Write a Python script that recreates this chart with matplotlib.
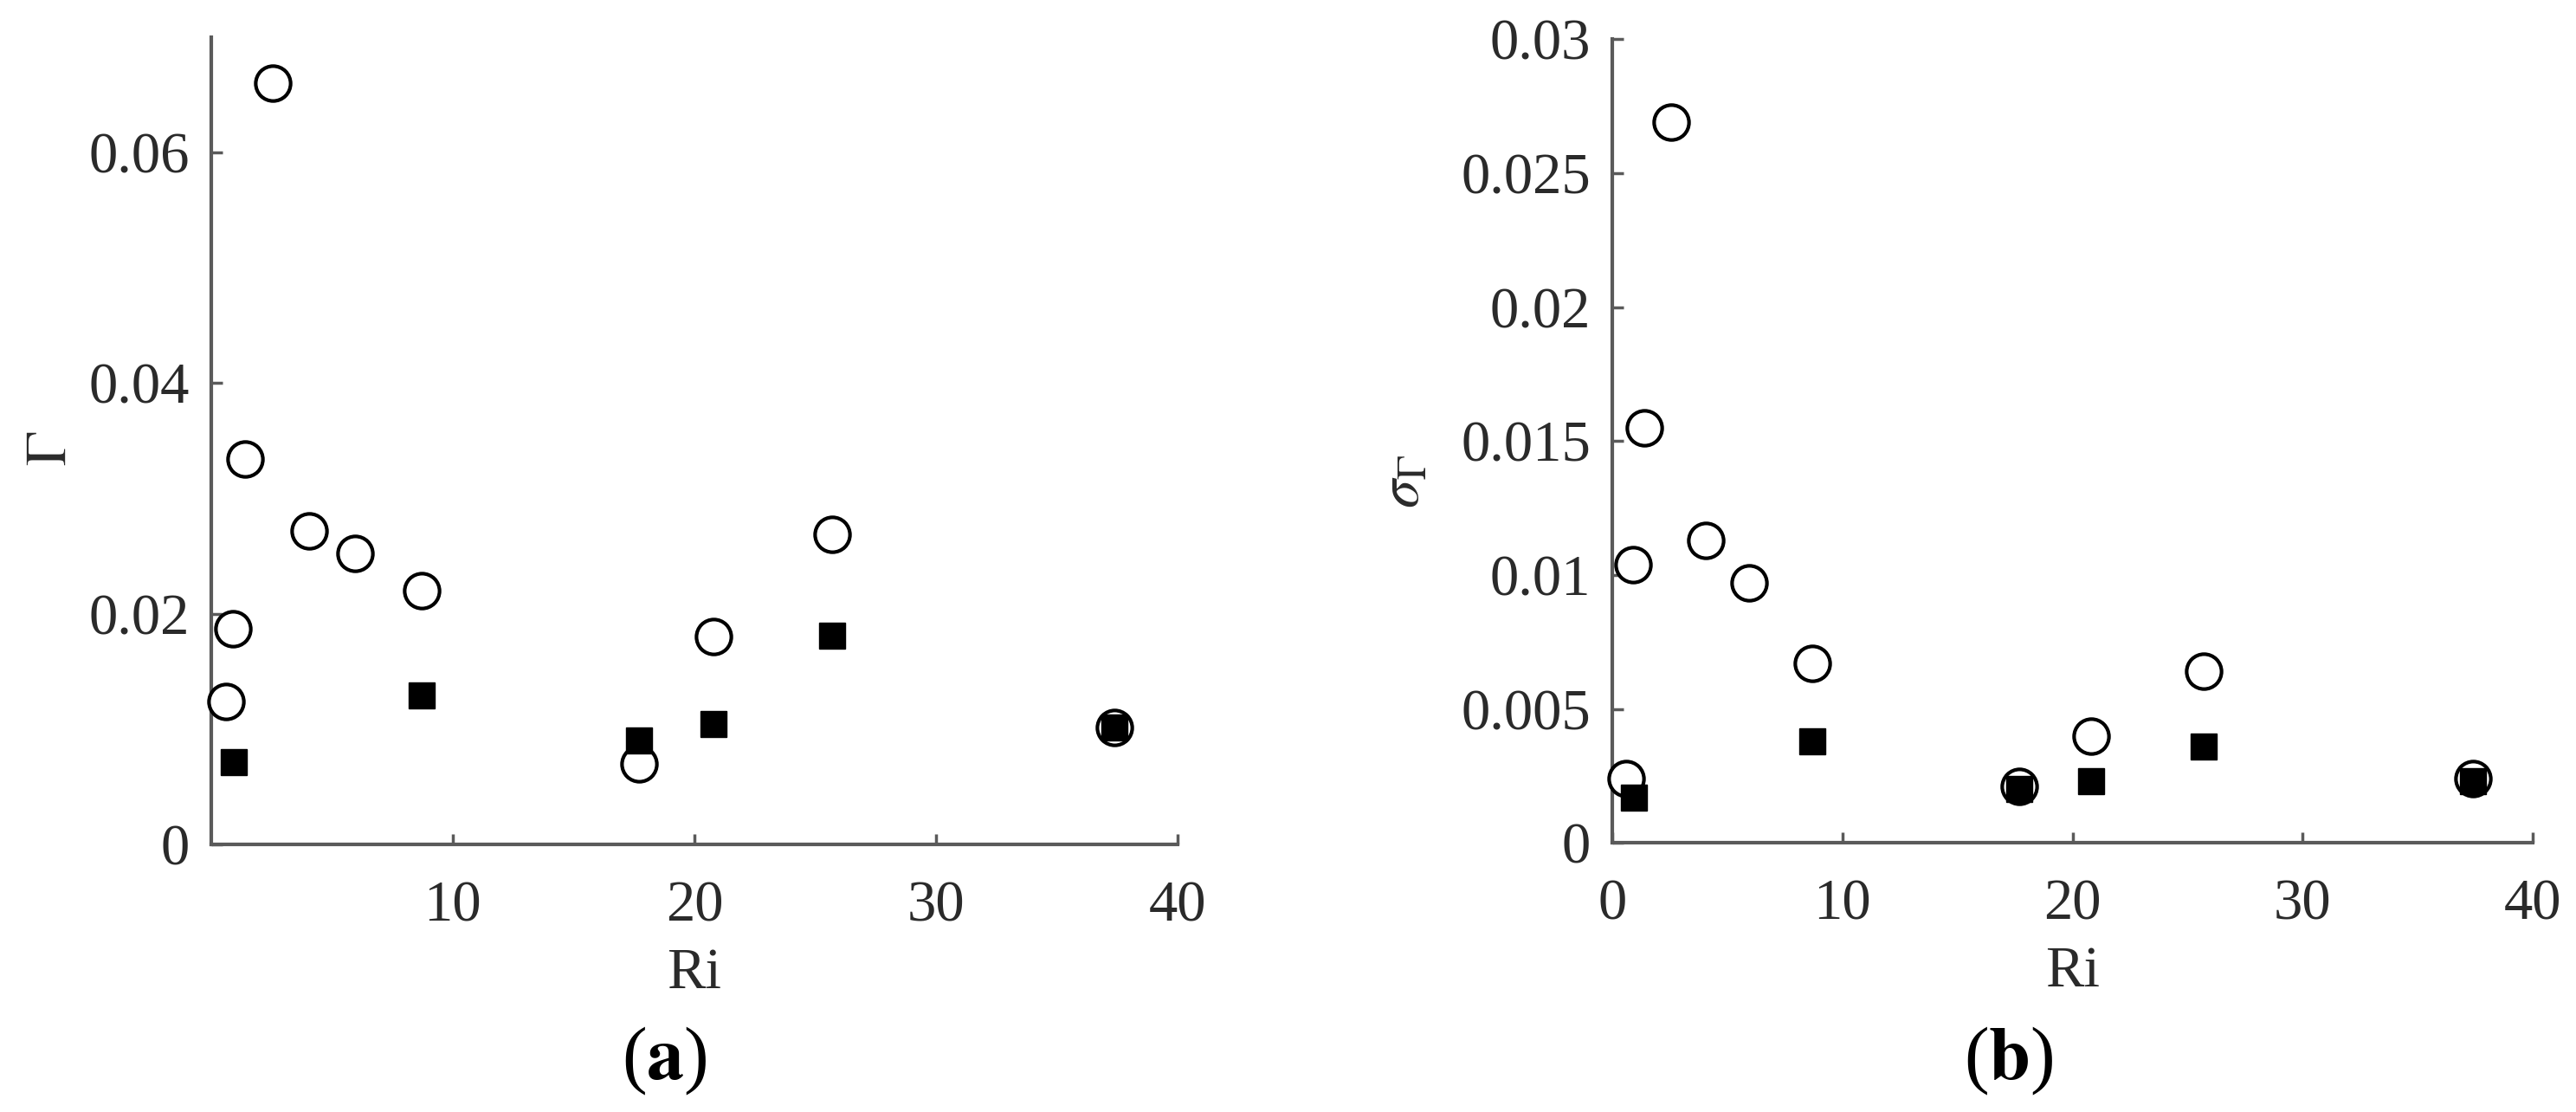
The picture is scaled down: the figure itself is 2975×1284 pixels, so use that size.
import matplotlib
matplotlib.use("Agg")
import matplotlib.pyplot as plt

# Ri values (shared x positions)
ri_open = [0.6, 0.9, 1.4, 2.55, 4.05, 5.95, 8.7, 17.7, 20.8, 25.7, 37.4]
ri_filled = [0.95, 8.7, 17.7, 20.8, 25.7, 37.4]

# panel (a): Gamma
gamma_open = [0.0124, 0.0187, 0.0334, 0.0660, 0.0272, 0.0252, 0.0220, 0.0070, 0.0180, 0.0269, 0.0101]
gamma_filled = [0.0071, 0.0129, 0.0090, 0.0104, 0.0181, 0.0101]

# panel (b): sigma_Gamma
sigma_open = [0.0024, 0.0104, 0.0155, 0.0269, 0.0113, 0.0097, 0.0067, 0.0021, 0.0040, 0.0064, 0.0024]
sigma_filled = [0.0017, 0.0038, 0.0020, 0.0023, 0.0036, 0.0023]

plt.rcParams['font.family'] = ['Liberation Serif', 'DejaVu Serif']
plt.rcParams['mathtext.fontset'] = 'stix'

text_c = '#2a2a2a'
spine_c = '#5a5a5a'

fig = plt.figure(figsize=(29.75, 12.84), dpi=100)
ax1 = fig.add_axes([0.0820, 0.2407, 0.3751, 0.7259])
ax2 = fig.add_axes([0.6259, 0.2420, 0.3573, 0.7227])


def style(ax):
    for s in ['top', 'right']:
        ax.spines[s].set_visible(False)
    for s in ['left', 'bottom']:
        ax.spines[s].set_color(spine_c)
        ax.spines[s].set_linewidth(3)
    ax.tick_params(direction='in', length=9, width=2.5, color=spine_c,
                   labelsize=48, labelcolor=text_c)
    ax.tick_params(axis='x', pad=30)
    ax.tick_params(axis='y', pad=18)


for ax, yo, yf in [(ax1, gamma_open, gamma_filled), (ax2, sigma_open, sigma_filled)]:
    ax.plot(ri_open, yo, 'o', ms=29, mfc='white', mec='black', mew=3, zorder=3,
            clip_on=False)
    ax.plot(ri_filled, yf, 's', ms=21, mfc='black', mec='black', mew=1, zorder=4,
            clip_on=False)
    ax.set_xlim(0, 40)
    style(ax)
    ax.set_xlabel('Ri', fontsize=48, color=text_c)
    ax.xaxis.set_label_coords(0.5, -0.128)

ax1.set_ylim(0, 0.07)
ax1.set_xticks([10, 20, 30, 40])
ax1.set_yticks([0, 0.02, 0.04, 0.06])
ax1.set_yticklabels(['0', '0.02', '0.04', '0.06'])
ax1.set_ylabel(r'$\Gamma$', fontsize=48, color=text_c)
ax1.yaxis.set_label_coords(-0.138, 0.49)

ax2.set_ylim(0, 0.03)
ax2.set_xticks([0, 10, 20, 30, 40])
ax2.set_yticks([0, 0.005, 0.01, 0.015, 0.02, 0.025, 0.03])
ax2.set_yticklabels(['0', '0.005', '0.01', '0.015', '0.02', '0.025', '0.03'])
ax2.set_ylabel(r'$\sigma_\Gamma$', fontsize=48, color=text_c)
ax2.yaxis.set_label_coords(-0.198, 0.45)

fig.text(767 / 2975, 1 - 1225 / 1284, r'($\mathbf{a}$)', fontsize=62, color='black',
         ha='center', va='center')
fig.text(2320 / 2975, 1 - 1225 / 1284, r'($\mathbf{b}$)', fontsize=62, color='black',
         ha='center', va='center')

fig.savefig('out.png', dpi=100, facecolor='white')
